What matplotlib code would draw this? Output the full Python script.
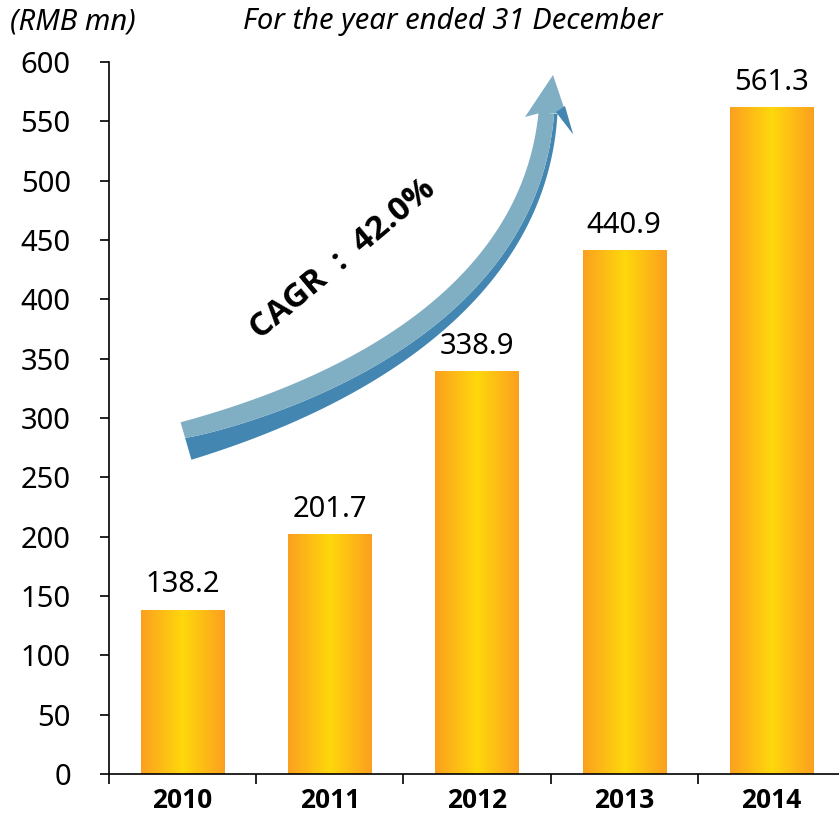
import numpy as np
import matplotlib
matplotlib.use("Agg")
import matplotlib.pyplot as plt
from matplotlib.colors import LinearSegmentedColormap
from matplotlib.patches import Polygon

plt.rcParams['font.family'] = ['Noto Sans', 'DejaVu Sans']
BOLD_FAMILY = ['Open Sans', 'DejaVu Sans']

# data
years = ['2010', '2011', '2012', '2013', '2014']
revenue = [138.2, 201.7, 338.9, 440.9, 561.3]
value_labels = ['138.2', '201.7', '338.9', '440.9', '561.3']
y_ticks = list(range(0, 601, 50))
unit_label = '(RMB mn)'
period_label = 'For the year ended 31 December'
cagr_label = 'CAGR  :  42.0%'

W, H = 839, 815
fig = plt.figure(figsize=(W / 100, H / 100), dpi=100)
ax = fig.add_axes([109 / W, 1 - 774 / H, 736 / W, 712 / H])

x = np.arange(len(years))
bars = ax.bar(x, revenue, width=0.565, color='none', edgecolor='none')

# orange -> yellow -> orange gradient inside every bar
grad_cmap = LinearSegmentedColormap.from_list('bar', ['#FBA01F', '#FFD80C', '#FBA01F'])
grad = np.linspace(0, 1, 256).reshape(1, -1)
for rect in bars:
    x0, w, h = rect.get_x(), rect.get_width(), rect.get_height()
    ax.imshow(grad, extent=(x0, x0 + w, 0, h), aspect='auto', cmap=grad_cmap,
              interpolation='bicubic', zorder=2)

for xi, v, lab in zip(x, revenue, value_labels):
    ax.annotate(lab, (xi, v), xytext=(0, 13), textcoords='offset points',
                ha='center', va='baseline', fontsize=21)

ax.set_xlim(-0.5, len(years) - 0.5)
ax.set_ylim(0, 600)
ax.set_yticks(y_ticks)
ax.tick_params(axis='y', labelsize=21, length=6.5, width=1.2, pad=21)
ax.set_xticks(x)
ax.set_xticklabels(years, fontsize=19, fontweight='bold', family=BOLD_FAMILY)
ax.set_xticks(np.arange(-0.5, len(years) - 0.4, 1.0), minor=True)
ax.tick_params(axis='x', which='major', length=0, pad=9)
ax.tick_params(axis='x', which='minor', length=7, width=1.2)
for s in ['top', 'right']:
    ax.spines[s].set_visible(False)
for s in ['left', 'bottom']:
    ax.spines[s].set_linewidth(1.2)


def to_fig(pts):
    pts = np.asarray(pts, dtype=float)
    return np.column_stack([pts[:, 0] / W, 1 - pts[:, 1] / H])


# curved CAGR arrow (pixel coordinates, y downwards)
P0, P1, P2, P3 = map(np.array, [(186, 441), (380, 385), (535, 280), (548, 113)])
t = np.linspace(0, 1, 150)[:, None]
c = (1 - t) ** 3 * P0 + 3 * (1 - t) ** 2 * t * P1 + 3 * (1 - t) * t ** 2 * P2 + t ** 3 * P3
d = 3 * (1 - t) ** 2 * (P1 - P0) + 6 * (1 - t) * t * (P2 - P1) + 3 * t ** 2 * (P3 - P2)
d = d / np.linalg.norm(d, axis=1)[:, None]
n = np.column_stack([d[:, 1], -d[:, 0]])
wid = 39 + (19 - 39) * t
light_frac = 0.41 + (0.82 - 0.41) * t ** 0.6
upper = c + n * wid / 2
lower = c - n * wid / 2
mid = upper - n * wid * light_frac

light = '#80AFC4'
dark = '#4386B2'
fig.add_artist(Polygon(to_fig(np.vstack([mid, lower[::-1]])), closed=True,
                       facecolor=dark, edgecolor='none', transform=fig.transFigure))
fig.add_artist(Polygon(to_fig(np.vstack([upper, mid[::-1]])), closed=True,
                       facecolor=light, edgecolor='none', transform=fig.transFigure))
fig.add_artist(Polygon(to_fig([(553, 75), (525, 117), (540, 113), (557, 113), (573, 134)]),
                       closed=True, facecolor=light, edgecolor='none', transform=fig.transFigure))
fig.add_artist(Polygon(to_fig([(556, 112), (565, 106), (573, 134)]), closed=True,
                       facecolor=dark, edgecolor='none', transform=fig.transFigure))

fig.text(343 / W, 1 - 259 / H, cagr_label, rotation=40, rotation_mode='anchor',
         ha='center', va='center', fontsize=24, fontweight='bold', family=BOLD_FAMILY)

fig.text(10 / W, 1 - 22 / H, unit_label, style='italic', va='center', fontsize=21)
fig.text(453 / W, 1 - 22 / H, period_label, style='italic', ha='center', va='center', fontsize=21)

fig.savefig('out.png', dpi=100)
